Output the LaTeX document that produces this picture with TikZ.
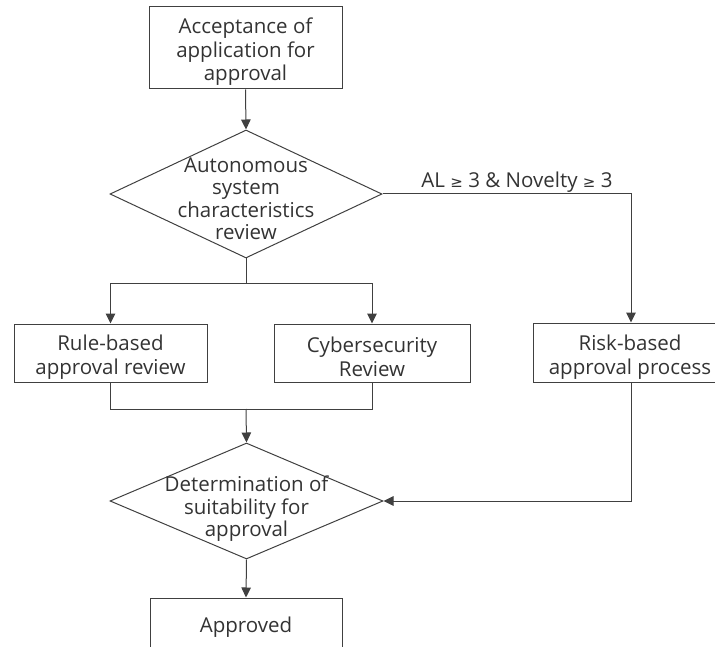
\documentclass[tikz,border=0pt]{standalone}
\usepackage{fontspec}
\setmainfont{Open Sans}
\newfontfamily\symf{DejaVu Sans}
\usetikzlibrary{shapes.geometric,arrows.meta}
\definecolor{ln}{HTML}{404040}
\definecolor{tx}{HTML}{333333}
\tikzset{
  box/.style={draw=ln, line width=1pt, rectangle, inner sep=0pt},
  dia/.style={draw=ln, line width=1pt, diamond, inner sep=0pt},
  txt/.style={text=tx, align=center, inner sep=0pt, font=\fontsize{20.5}{23.5}\selectfont},
  dtxt/.style={txt, font=\fontsize{20.5}{22.5}\selectfont},
  conn/.style={draw=ln, line width=1pt},
  arr/.style={conn, -{Triangle[length=10pt,width=9.5pt]}}
}
\begin{document}
\begin{tikzpicture}[x=1pt,y=-1pt]
\useasboundingbox (0,0) rectangle (715,647);
\clip (0,0) rectangle (715,647);
\node[box, minimum width=193pt, minimum height=82pt] (acc) at (245.5,48) {};
\node[txt] (acct) at (245.5,52) {Acceptance of\\application for\\approval};
\node[dia, minimum width=272pt, minimum height=128pt] (d1) at (246,194) {};
\node[dtxt] (d1t) at (246,199) {Autonomous\\system\\characteristics\\review};
\node[box, minimum width=193pt, minimum height=58pt] (rule) at (110.5,353) {};
\node[txt] (rulet) at (110.5,357) {Rule-based\\approval review};
\node[box, minimum width=196pt, minimum height=58pt] (cyber) at (372,353) {};
\node[txt] (cybert) at (372,357) {Cybersecurity\\Review};
\node[box, minimum width=196pt, minimum height=59pt] (risk) at (631,352.5) {};
\node[txt] (riskt) at (630,357) {Risk-based\\approval process};
\node[dia, minimum width=273pt, minimum height=116pt] (d2) at (246.5,501) {};
\node[dtxt] (d2t) at (246.5,509) {Determination of\\suitability for\\approval};
\node[box, minimum width=192pt, minimum height=58pt] (app) at (246,627) {};
\node[txt] (appt) at (246,627) {Approved};
\node[txt, anchor=base] (lab) at (517,188) {AL {\symf\fontsize{15}{15}\selectfont ≥} 3 \& Novelty {\symf\fontsize{15}{15}\selectfont ≥} 3};
\coordinate (j1) at (246,283);
\coordinate (j2) at (246,409);
\draw[arr] (acc.south) -- (d1.north);
\draw[conn] (d1.south) -- (j1);
\draw[arr] (j1) -| (rule.north);
\draw[arr] (j1) -| (cyber.north);
\draw[arr] (d1.east) -| (risk.north);
\draw[conn] (rule.south) |- (j2);
\draw[conn] (cyber.south) |- (j2);
\draw[arr] (j2) -- (d2.north);
\draw[arr] (risk.south) |- (d2.east);
\draw[arr] (d2.south) -- (app.north);
\end{tikzpicture}
\end{document}
